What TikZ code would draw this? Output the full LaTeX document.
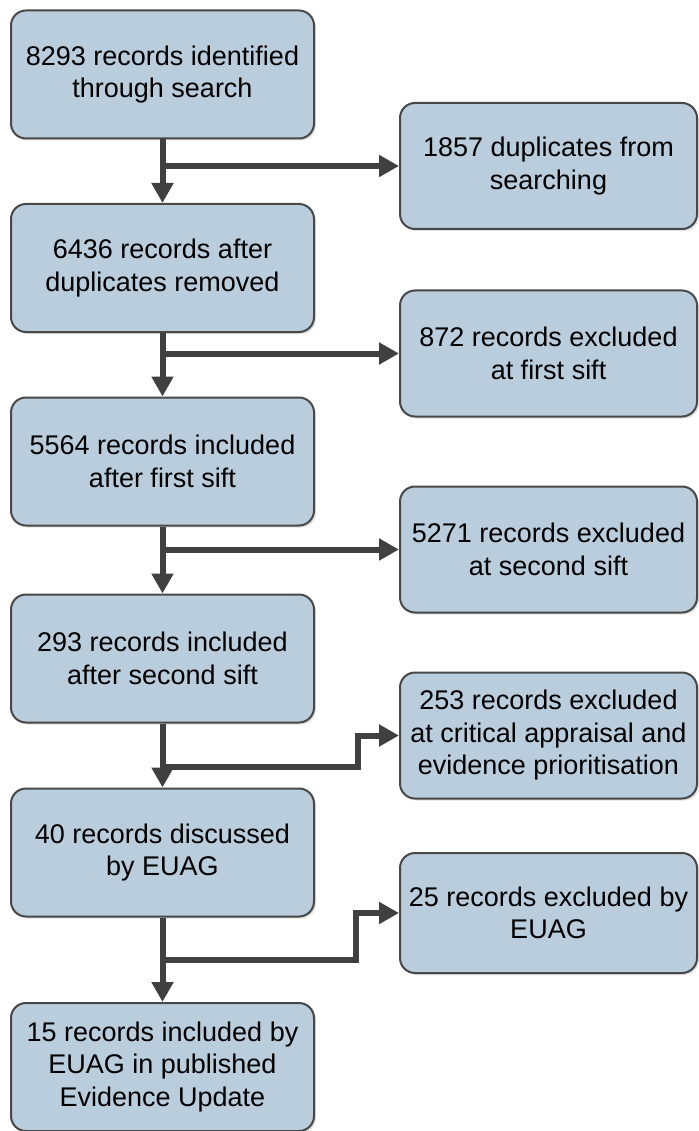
\documentclass[tikz,border=0pt]{standalone}
\usepackage{fontspec}
\setmainfont{Liberation Sans}
\usetikzlibrary{arrows.meta,shadows}

\begin{document}
\begin{tikzpicture}[x=1pt, y=-1pt,
		box/.style = {draw=edge, fill=paleblue, line width=2pt, rounded corners=15pt,
			align=center, inner sep=0pt, minimum width=303pt, minimum height=128pt,
			font=\fontsize{27}{32.5}\selectfont,
			drop shadow={shadow xshift=2pt, shadow yshift=-2pt, fill=black, opacity=0.12}},
		side/.style = {box, minimum width=297pt, minimum height=126pt},
		flow/.style = {draw=arrowgrey, line width=6pt, -{Triangle[width=21pt, length=20pt]}}]
		\useasboundingbox (0,0) rectangle (698,1131);

		\definecolor{paleblue}{RGB}{185,205,221}
		\definecolor{edge}{RGB}{72,72,72}
		\definecolor{arrowgrey}{RGB}{64,64,64}

		% main column
		\node[box] (l1) at (162.5,74.5) {8293 records identified\\through search};
		\node[box] (l2) at (162.5,268) {6436 records after\\duplicates removed};
		\node[box] (l3) at (162.5,461.5) {5564 records included\\after first sift};
		\node[box] (l4) at (162.5,658.5) {293 records included\\after second sift};
		\node[box] (l5) at (162.5,852.5) {40 records discussed\\by EUAG};
		\node[box] (l6) at (162.5,1067) {15 records included by\\EUAG in published\\Evidence Update};

		% excluded column
		\node[side] (r1) at (548.5,166) {1857 duplicates from\\searching};
		\node[side] (r2) at (548.5,353.5) {872 records excluded\\at first sift};
		\node[side] (r3) at (548.5,549.5) {5271 records excluded\\at second sift};
		\node[side] (r4) at (548.5,735.5) {253 records excluded\\at critical appraisal and\\evidence prioritisation};
		\node[side, minimum height=120pt] (r5) at (548.5,913) {25 records excluded by\\EUAG};

		% branch points
		\coordinate (k4) at (162.5,767);
		\coordinate (k5) at (162.5,960);

		% side arrows
		\draw[flow] (l1.south |- r1.west) -- (r1.west);
		\draw[flow] (l2.south |- r2.west) -- (r2.west);
		\draw[flow] (l3.south |- r3.west) -- (r3.west);
		\draw[flow] (k4) -- ++(195.5,0) |- (r4.west);
		\draw[flow] (k5) -- ++(193.5,0) |- (r5.west);

		% down arrows
		\draw[flow] (l1) -- (l2);
		\draw[flow] (l2) -- (l3);
		\draw[flow] (l3) -- (l4);
		\draw[flow] (l4) -- (l5);
		\draw[flow] (l5) -- (l6);
	\end{tikzpicture}
\end{document}
